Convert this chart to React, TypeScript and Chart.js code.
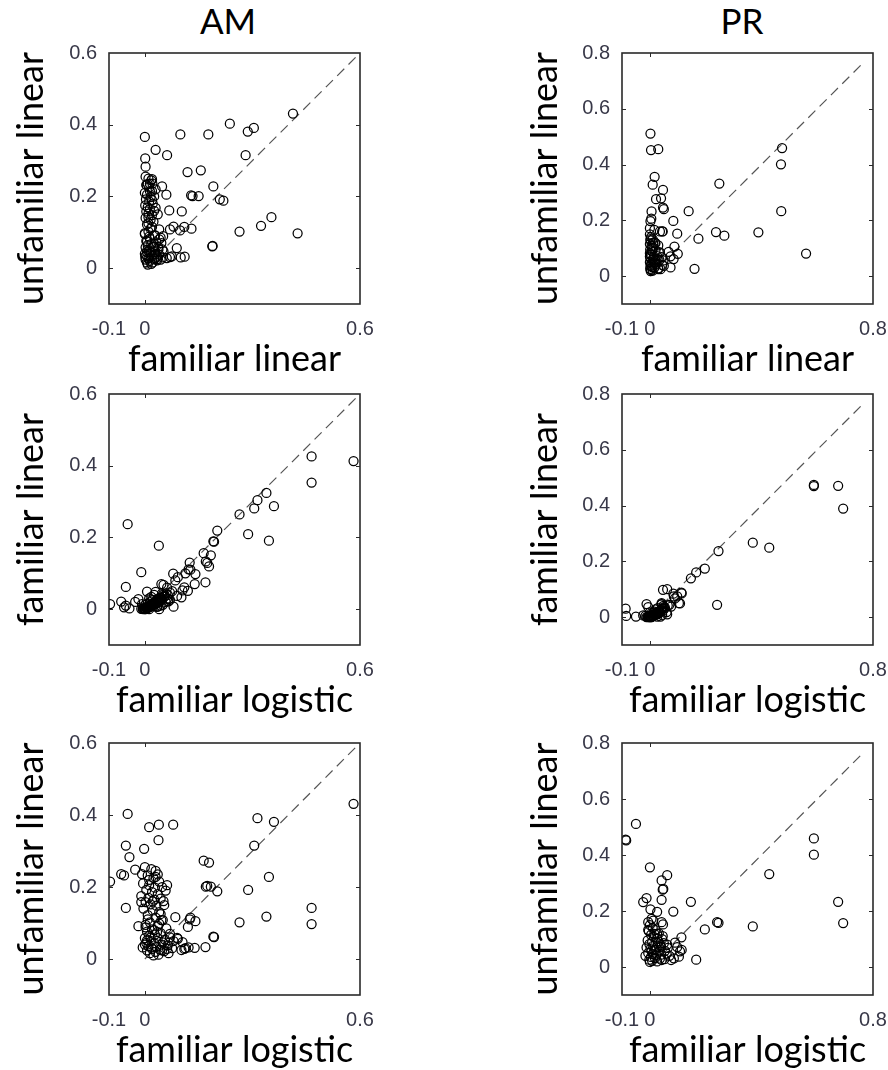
import React, { useEffect, useRef } from 'react';
import { Chart, registerables } from 'chart.js';

Chart.register(...registerables);

// ---------- AM data (one entry per item: familiar logistic, familiar linear, unfamiliar linear)
const amFamiliarLogistic: (number | null)[] = [
  0.582, 0.465, 0.465, 0.339, 0.346, 0.360, 0.314, 0.305, 0.264, 0.288,
  0.202, 0.191, 0.193, 0.164, 0.184, 0.174, 0.179, 0.125, 0.039, -0.048,
  0.079, -0.010, -0.053, -0.097, -0.066, -0.058, -0.043, -0.053, 0.169, 0.139,
  0.122, 0.113, 0.092, 0.120, 0.141, 0.127, 0.085, 0.062, 0.030, 0.052,
  0.090, 0.080, 0.066, 0.006, -0.018, -0.027, -0.008, 0.012, -0.002, 0.038,
  0.170, 0.110, 0.105, 0.102, 0.046,
  0.000, 0.018, 0.030, 0.008, 0.024, 0.040, -0.005, 0.012, 0.028, 0.048,
  0.004, 0.020, 0.036, -0.010, 0.010, 0.026, 0.044, 0.002, 0.016, 0.032,
  0.054, -0.004, 0.022, 0.040, 0.008, 0.030, 0.050, 0.014, 0.002, 0.036,
  0.060, 0.020, 0.006, 0.044, 0.028, 0.070, 0.012, 0.000, 0.036, 0.056,
  0.018, 0.004, 0.026, 0.046, 0.064, 0.010, 0.032, -0.006, 0.020, 0.042,
  0.076, 0.006, 0.030, 0.054, 0.014, 0.038, 0.024, 0.062, 0.000, 0.016,
  0.050, 0.034, 0.008, 0.044, 0.022, 0.058, 0.012, 0.036, 0.070, 0.002,
  0.026, 0.048, 0.066, 0.018, 0.040,
];
const amFamiliarLinear: (number | null)[] = [
  0.413, 0.426, 0.353, 0.324, 0.191, 0.287, 0.304, 0.281, 0.264, 0.209,
  0.219, 0.189, 0.188, 0.156, 0.150, 0.129, 0.119, 0.130, 0.177, 0.237,
  0.099, 0.103, 0.062, 0.014, 0.021, 0.005, 0.002, 0.010, 0.075, 0.070,
  0.111, 0.100, 0.089, 0.051, 0.098, 0.110, 0.080, 0.060, 0.048, 0.068,
  0.037, 0.007, 0.028, 0.049, 0.028, 0.020, 0.014, 0.000, 0.001, 0.030,
  0.133, 0.061, 0.052, 0.033, 0.070,
  0.002, 0.010, 0.018, 0.004, 0.012, 0.020, 0.000, 0.006, 0.016, 0.026,
  0.003, 0.012, 0.022, 0.001, 0.008, 0.014, 0.030, 0.004, 0.010, 0.020,
  0.036, 0.002, 0.016, 0.024, 0.006, 0.020, 0.040, 0.010, 0.000, 0.028,
  0.044, 0.014, 0.004, 0.032, 0.018, 0.046, 0.008, 0.002, 0.024, 0.038,
  0.012, 0.006, 0.016, 0.030, 0.040, 0.004, 0.020, 0.001, 0.010, 0.026,
  0.050, 0.002, 0.014, 0.034, 0.006, 0.018, 0.008, 0.030, 0.000, 0.022,
  0.012, 0.006, 0.016, 0.010, 0.026, 0.020, 0.030, 0.008, 0.026, 0.012,
  0.040, 0.044, 0.022, 0.034, 0.000,
];
const amUnfamiliarLinear: (number | null)[] = [
  0.431, 0.097, 0.142, 0.118, 0.228, 0.381, 0.391, 0.315, 0.102, 0.192,
  0.188, 0.062, 0.061, 0.273, 0.201, 0.203, 0.268, 0.110, 0.373, 0.403,
  0.373, 0.158, 0.315, 0.215, 0.236, 0.232, 0.283, 0.142, 0.033, 0.031,
  0.032, 0.030, 0.056, 0.089, 0.105, 0.115, 0.116, 0.205, 0.228, 0.161,
  0.059, 0.050, 0.045, 0.052, 0.091, 0.248, 0.236, 0.366, 0.306, 0.330,
  0.201, 0.028, 0.047, 0.025, 0.108,
  0.255, 0.250, 0.245, 0.232, 0.225, 0.215, 0.210, 0.205, 0.198, 0.200,
  0.192, 0.186, 0.180, 0.175, 0.170, 0.165, 0.168, 0.158, 0.152, 0.148,
  0.150, 0.140, 0.135, 0.130, 0.122, 0.115, 0.108, 0.102, 0.095, 0.092,
  0.085, 0.082, 0.076, 0.072, 0.068, 0.070, 0.064, 0.058, 0.058, 0.054,
  0.050, 0.045, 0.044, 0.040, 0.038, 0.036, 0.034, 0.032, 0.028, 0.026,
  0.030, 0.024, 0.020, 0.022, 0.016, 0.012, 0.010, 0.028, 0.040, 0.060,
  0.046, 0.075, 0.110, 0.125, 0.160, 0.190, 0.220, 0.235, 0.060, 0.088,
  0.080, 0.024, 0.016, 0.032, 0.098,
];

// ---------- PR data
const prFamiliarLogistic: (number | null)[] = [
  0.588, 0.588, 0.675, 0.693, 0.369, 0.428, 0.246, 0.241, 0.197, 0.166,
  0.147, 0.113, -0.087, -0.050, -0.085, 0.000, 0.062, 0.042, 0.048, 0.046,
  0.042, -0.024, -0.012, 0.084, 0.002, 0.026, 0.006, 0.012, -0.006, 0.042,
  0.047, 0.062, 0.098, 0.086, 0.104, 0.114, 0.108, 0.090, 0.042, -0.006,
  0.026, null,
  0.000, 0.010, -0.004, 0.020, 0.032, 0.004, 0.014, 0.026, 0.046, -0.008,
  0.008, 0.030, 0.050, -0.002, 0.012, 0.024, 0.040, 0.064, 0.002, 0.016,
  0.034, 0.054, -0.006, 0.010, 0.022, 0.040, 0.070, 0.004, 0.018, 0.036,
  -0.002, 0.008, 0.026, 0.052, 0.000, -0.012, 0.006, 0.020, 0.044, 0.016,
  0.060, -0.016, 0.028, 0.076, 0.038,
];
const prFamiliarLinear: (number | null)[] = [
  0.474, 0.470, 0.471, 0.389, 0.267, 0.249, 0.237, 0.044, 0.174, 0.160,
  0.139, 0.088, 0.030, 0.002, 0.004, 0.017, 0.010, 0.047, 0.040, 0.022,
  0.050, 0.006, 0.047, 0.084, 0.005, 0.002, 0.000, 0.016, 0.036, 0.046,
  0.098, 0.100, 0.074, 0.074, 0.050, 0.085, 0.049, 0.067, 0.030, 0.002,
  0.012, 0.560,
  0.000, 0.004, 0.002, 0.010, 0.018, 0.000, 0.006, 0.012, 0.030, 0.001,
  0.008, 0.020, 0.036, 0.000, 0.004, 0.014, 0.026, 0.042, 0.002, 0.010,
  0.020, 0.034, 0.000, 0.006, 0.012, 0.024, 0.044, 0.002, 0.008, 0.016,
  0.001, 0.004, 0.010, 0.030, 0.003, 0.000, 0.014, 0.028, 0.008, 0.020,
  0.018, 0.004, 0.032, 0.038, 0.002,
];
const prUnfamiliarLinear: (number | null)[] = [
  0.459, 0.401, 0.233, 0.157, 0.145, 0.332, 0.158, 0.160, 0.134, 0.026,
  0.233, 0.106, 0.455, 0.511, 0.452, 0.356, 0.328, 0.309, 0.279, 0.276,
  0.240, 0.232, 0.246, 0.198, 0.206, 0.197, 0.172, 0.166, 0.160, 0.160,
  0.152, 0.080, 0.071, 0.031, 0.037, 0.061, 0.056, 0.087, 0.025, 0.133,
  0.118, 0.081,
  0.150, 0.140, 0.128, 0.132, 0.120, 0.115, 0.108, 0.102, 0.110, 0.095,
  0.090, 0.092, 0.085, 0.082, 0.076, 0.070, 0.072, 0.068, 0.064, 0.060,
  0.056, 0.058, 0.050, 0.046, 0.042, 0.044, 0.040, 0.036, 0.032, 0.030,
  0.026, 0.022, 0.020, 0.028, 0.018, 0.070, 0.058, 0.062, 0.100, 0.118,
  0.048, 0.040, 0.085, 0.025, 0.078,
];

// ---------- axes
const amRange = [-0.1, 0.6];
const prRange = [-0.1, 0.8];
const amXTicks = [-0.1, 0, 0.6];
const amYTicks = [0, 0.2, 0.4, 0.6];
const prXTicks = [-0.1, 0, 0.8];
const prYTicks = [0, 0.2, 0.4, 0.6, 0.8];
const amDiagonal = [0, 0.6];
const prDiagonal = [0, 0.76];
const columnTitles = ['AM', 'PR'];
const labelFamLinear = 'familiar linear';
const labelFamLogistic = 'familiar logistic';
const labelUnfamLinear = 'unfamiliar linear';

const TITLE_FONT = 'Lato';
const TICK_FONT = 'Liberation Sans';

const framePlugin = {
  id: 'frame',
  afterDraw(chart: any) {
    const { ctx, chartArea: a, scales } = chart;
    const o = chart.options.plugins.frame;
    ctx.save();
    ctx.strokeStyle = '#2a2a2a';
    ctx.lineWidth = 1;
    ctx.beginPath();
    o.yTicks.forEach((v: number) => {
      const p = Math.round(scales.y.getPixelForValue(v)) + 0.5;
      if (p > a.top + 2 && p < a.bottom - 2) {
        ctx.moveTo(a.left, p);
        ctx.lineTo(a.left + 4, p);
        ctx.moveTo(a.right, p);
        ctx.lineTo(a.right - 4, p);
      }
    });
    o.xTicks.forEach((v: number) => {
      const p = Math.round(scales.x.getPixelForValue(v)) + 0.5;
      if (p > a.left + 2 && p < a.right - 2) {
        ctx.moveTo(p, a.bottom);
        ctx.lineTo(p, a.bottom - 4);
        ctx.moveTo(p, a.top);
        ctx.lineTo(p, a.top + 4);
      }
    });
    ctx.stroke();
    ctx.lineWidth = 1.6;
    ctx.strokeRect(a.left, a.top, a.right - a.left, a.bottom - a.top);
    ctx.restore();
  },
};

type PanelSpec = {
  xs: (number | null)[];
  ys: (number | null)[];
  xTitle: string;
  yTitle: string;
  range: number[];
  xTicks: number[];
  yTicks: number[];
  diag: number[];
  left: number;
  top: number;
  width: number;
  height: number;
  padLeft: number;
  padRight: number;
  padTop: number;
  yAxisWidth: number;
};

const X_AXIS_HEIGHT = 75;

function ScatterPanel({ spec }: { spec: PanelSpec }) {
  const ref = useRef<HTMLCanvasElement | null>(null);
  useEffect(() => {
    if (!ref.current) return;
    const points = spec.xs
      .map((x, i) => ({ x, y: spec.ys[i] }))
      .filter((p) => p.x !== null && p.y !== null);
    const tickFont = { family: TICK_FONT, size: 20 };
    const chart = new Chart(ref.current, {
      type: 'scatter',
      data: {
        datasets: [
          {
            type: 'scatter',
            data: points as any,
            pointRadius: 4.5,
            pointBorderWidth: 1.25,
            pointBorderColor: '#000',
            pointBackgroundColor: 'rgba(0,0,0,0)',
            pointHoverRadius: 4.5,
          },
          {
            type: 'line',
            data: spec.diag.map((v) => ({ x: v, y: v })) as any,
            borderColor: '#555',
            borderWidth: 1.2,
            borderDash: [10, 6],
            pointRadius: 0,
            fill: false,
          } as any,
        ],
      },
      options: {
        animation: false,
        responsive: false,
        events: [],
        layout: {
          padding: { left: spec.padLeft, right: spec.padRight, top: spec.padTop, bottom: 0 },
        },
        plugins: {
          legend: { display: false },
          tooltip: { enabled: false },
          frame: { xTicks: spec.xTicks, yTicks: spec.yTicks },
        } as any,
        scales: {
          x: {
            type: 'linear',
            min: spec.range[0],
            max: spec.range[1],
            grid: { display: false, drawTicks: false },
            border: { display: false },
            afterBuildTicks: (s: any) => {
              s.ticks = spec.xTicks.map((v) => ({ value: v }));
            },
            afterFit: (s: any) => {
              s.height = X_AXIS_HEIGHT;
              s.paddingLeft = 0;
              s.paddingRight = 0;
            },
            ticks: {
              autoSkip: false,
              maxRotation: 0,
              minRotation: 0,
              padding: 13,
              color: '#383848',
              font: tickFont,
              callback: (v: any) => String(v),
            },
            title: {
              display: true,
              text: spec.xTitle,
              color: '#000',
              font: { family: TITLE_FONT, size: 36, lineHeight: 1 },
              padding: { top: 0, bottom: 2 },
            },
          },
          y: {
            type: 'linear',
            min: spec.range[0],
            max: spec.range[1],
            grid: { display: false, drawTicks: false },
            border: { display: false },
            afterBuildTicks: (s: any) => {
              s.ticks = spec.yTicks.map((v) => ({ value: v }));
            },
            afterFit: (s: any) => {
              s.width = spec.yAxisWidth;
              s.paddingTop = 0;
              s.paddingBottom = 0;
            },
            ticks: {
              autoSkip: false,
              padding: 12,
              color: '#383848',
              font: tickFont,
              callback: (v: any) => String(v),
            },
            title: {
              display: true,
              text: spec.yTitle,
              color: '#000',
              font: { family: TITLE_FONT, size: 36, lineHeight: 1 },
              padding: { top: 13, bottom: 0 },
            },
          },
        },
      } as any,
      plugins: [framePlugin],
    });
    return () => chart.destroy();
  }, []);
  return (
    <canvas
      ref={ref}
      width={spec.width}
      height={spec.height}
      style={{ position: 'absolute', left: spec.left, top: spec.top, width: spec.width, height: spec.height }}
    />
  );
}

const rows = [
  { top: 40, height: 339, padTop: 13 },
  { top: 379, height: 341, padTop: 15 },
  { top: 720, height: 350, padTop: 23 },
];
const cols = [
  { left: 0, width: 444, padLeft: 0, padRight: 84, yAxisWidth: 109 },
  { left: 444, width: 444, padLeft: 70, padRight: 15, yAxisWidth: 108 },
];

function buildPanels(): PanelSpec[] {
  const datasets = [
    {
      famLog: amFamiliarLogistic, famLin: amFamiliarLinear, unfam: amUnfamiliarLinear,
      range: amRange, xTicks: amXTicks, yTicks: amYTicks, diag: amDiagonal,
    },
    {
      famLog: prFamiliarLogistic, famLin: prFamiliarLinear, unfam: prUnfamiliarLinear,
      range: prRange, xTicks: prXTicks, yTicks: prYTicks, diag: prDiagonal,
    },
  ];
  const panels: PanelSpec[] = [];
  rows.forEach((r, ri) => {
    cols.forEach((c, ci) => {
      const d = datasets[ci];
      const pairs = [
        { xs: d.famLin, ys: d.unfam, xTitle: labelFamLinear, yTitle: labelUnfamLinear },
        { xs: d.famLog, ys: d.famLin, xTitle: labelFamLogistic, yTitle: labelFamLinear },
        { xs: d.famLog, ys: d.unfam, xTitle: labelFamLogistic, yTitle: labelUnfamLinear },
      ][ri];
      panels.push({
        ...pairs,
        range: d.range,
        xTicks: d.xTicks,
        yTicks: d.yTicks,
        diag: d.diag,
        left: c.left,
        top: r.top,
        width: c.width,
        height: r.height,
        padLeft: c.padLeft,
        padRight: c.padRight,
        padTop: r.padTop,
        yAxisWidth: c.yAxisWidth,
      });
    });
  });
  return panels;
}

export default function App() {
  const panels = buildPanels();
  const headerCenters = [228, 742];
  return (
    <div style={{ position: 'absolute', left: 0, top: 0, width: 888, height: 1070, background: '#fff', overflow: 'hidden' }}>
      {columnTitles.map((t, i) => (
        <div
          key={t}
          style={{
            position: 'absolute',
            left: headerCenters[i] - 100,
            top: 3,
            width: 200,
            textAlign: 'center',
            fontFamily: TITLE_FONT,
            fontSize: 35,
            lineHeight: '35px',
            color: '#000',
          }}
        >
          {t}
        </div>
      ))}
      {panels.map((p, i) => (
        <ScatterPanel key={i} spec={p} />
      ))}
    </div>
  );
}
